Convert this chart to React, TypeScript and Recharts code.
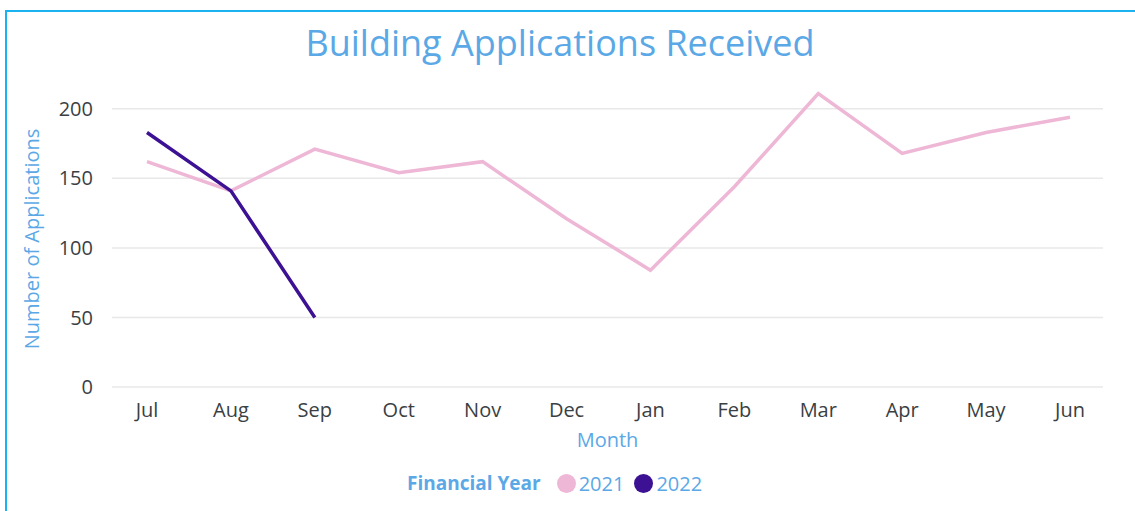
import React from "react";
import { LineChart, Line, XAxis, YAxis, CartesianGrid } from "recharts";

const months = ["Jul", "Aug", "Sep", "Oct", "Nov", "Dec", "Jan", "Feb", "Mar", "Apr", "May", "Jun"];
const fy2021 = [162, 141, 171, 154, 162, 121, 84, 144, 211, 168, 183, 194];
const fy2022 = [183, 141, 50, null, null, null, null, null, null, null, null, null];
const yTicks = [0, 50, 100, 150, 200];

const PINK = "#eeb7d6";
const PURPLE = "#3c1193";
const BLUE = "#5ba8e6";
const FONT = "'Open Sans', sans-serif";

const data = months.map((m, i) => ({ month: m, fy2021: fy2021[i], fy2022: fy2022[i] }));

const legendItems = [
  { label: "2021", color: PINK },
  { label: "2022", color: PURPLE },
];

export default function App() {
  return (
    <div style={{ position: "absolute", left: 0, top: 0, width: 1135, height: 511, overflow: "hidden", background: "#fff", fontFamily: FONT }}>
      {/* frame */}
      <div style={{ position: "absolute", left: 5, top: 10, width: 1160, height: 600, border: "2px solid #1ab3ef" }} />
      <div style={{ position: "absolute", left: 0, width: 1120, top: 19, textAlign: "center", fontSize: 36, color: BLUE, lineHeight: "48px" }}>
        Building Applications Received
      </div>
      <div style={{ position: "absolute", left: 0, top: 0 }}>
        <LineChart width={1135} height={511} data={data} margin={{ top: 81, right: 32, left: 0, bottom: 0 }}>
          <CartesianGrid vertical={false} horizontalValues={yTicks} stroke="#e8e8e8" strokeWidth={1.5} />
          <XAxis
            dataKey="month"
            scale="point"
            padding={{ left: 35, right: 33 }}
            height={124}
            axisLine={false}
            tickLine={false}
            tickSize={0}
            tickMargin={16}
            tick={{ fill: "#3a3f44", fontSize: 20, fontFamily: FONT }}
            label={{ value: "Month", position: "insideTop", offset: 46, fill: BLUE, fontSize: 20, fontFamily: FONT }}
          />
          <YAxis
            width={112}
            domain={[0, 220]}
            ticks={yTicks}
            axisLine={false}
            tickLine={false}
            tickSize={0}
            tickMargin={19}
            tick={{ fill: "#3a3f44", fontSize: 20, fontFamily: FONT }}
            label={{
              content: () => (
                <text x={31} y={239} transform="rotate(-90, 31, 239)" textAnchor="middle" dominantBaseline="central" fill={BLUE} fontSize={20} fontFamily={FONT}>
                  Number of Applications
                </text>
              ),
            }}
          />
          <Line type="linear" dataKey="fy2021" stroke={PINK} strokeWidth={3.5} dot={false} isAnimationActive={false} />
          <Line type="linear" dataKey="fy2022" stroke={PURPLE} strokeWidth={3.5} dot={false} isAnimationActive={false} />
        </LineChart>
      </div>
      <div style={{ position: "absolute", left: 407, top: 470, height: 26, display: "flex", alignItems: "center", fontSize: 20, color: BLUE }}>
        <span style={{ fontWeight: 700, fontSize: 19, marginRight: 16 }}>Financial Year</span>
        {legendItems.map((it) => (
          <span key={it.label} style={{ display: "flex", alignItems: "center", marginRight: 10 }}>
            <span style={{ display: "inline-block", width: 19, height: 19, borderRadius: "50%", background: it.color, marginRight: 3 }} />
            <span>{it.label}</span>
          </span>
        ))}
      </div>
    </div>
  );
}
